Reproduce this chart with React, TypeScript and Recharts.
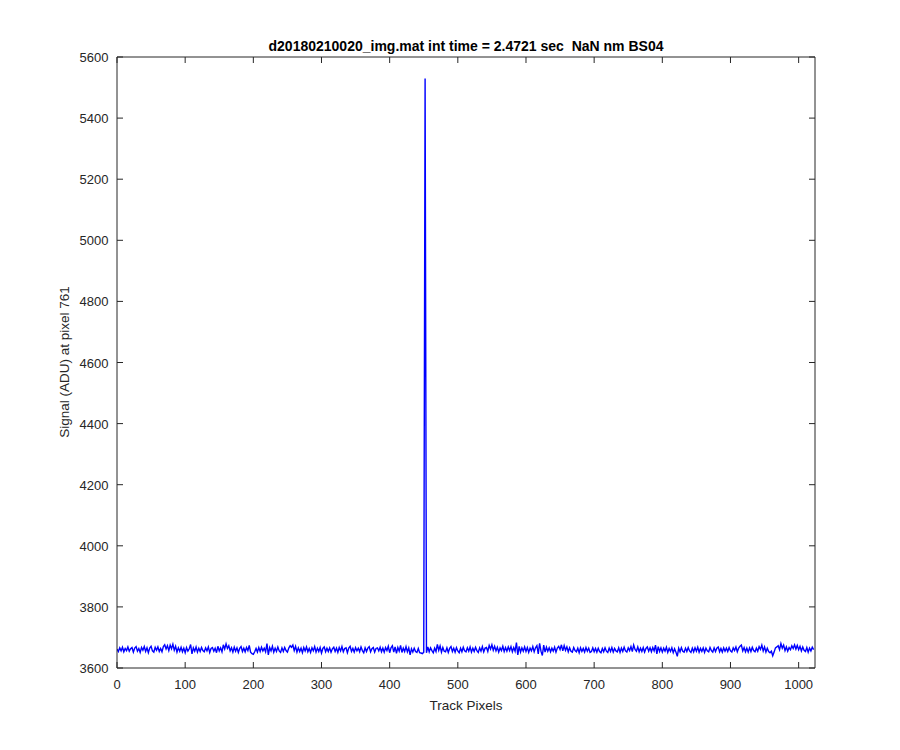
import React from "react";
import { LineChart, Line, XAxis, YAxis } from "recharts";

const chartTitle = "d20180210020_img.mat int time = 2.4721 sec  NaN nm BS04";
const xLabel = "Track Pixels";
const yLabel = "Signal (ADU) at pixel 761";

const xTicks = [0, 100, 200, 300, 400, 500, 600, 700, 800, 900, 1000];
const yTicks = [3600, 3800, 4000, 4200, 4400, 4600, 4800, 5000, 5200, 5400, 5600];
const xDomain = [0, 1024];
const yDomain = [3600, 5600];

// track pixel spacing between listed samples
const pixelStep = 2;

// signal values, track pixels 0, 2, 4, ... 1022
const signal = [
  3662,3654,3666,3656,3668,3653,3664,3657,3669,3655,3663,3667,3652,3665,3670,3655,3664,3651,3667,3658,3670,3654,3666,3650,3665,3671,3656,3652,3668,3658,3669,3654,
  3664,3653,3670,3676,3662,3673,3657,3675,3663,3678,3658,3671,3652,3666,3655,3668,3653,3665,3650,3667,3655,3663,3677,3646,3666,3655,3669,3652,3665,3654,3667,3657,
  3653,3666,3656,3669,3651,3664,3667,3655,3665,3650,3671,3656,3666,3653,3676,3662,3679,3664,3673,3656,3666,3652,3668,3655,3666,3651,3664,3670,3654,3665,3653,3667,
  3657,3674,3652,3647,3645,3653,3664,3652,3667,3654,3668,3656,3665,3653,3680,3643,3667,3656,3671,3652,3665,3654,3669,3656,3651,3666,3654,3667,3657,3652,3665,3673,
  3668,3675,3657,3671,3652,3666,3654,3665,3650,3667,3656,3669,3653,3664,3651,3666,3656,3670,3652,3665,3654,3667,3649,3664,3669,3653,3665,3654,3666,3652,3663,3668,
  3654,3665,3651,3667,3656,3670,3653,3664,3666,3650,3665,3671,3654,3664,3652,3667,3656,3665,3653,3669,3657,3650,3666,3654,3665,3670,3653,3663,3667,3652,3664,3666,
  3656,3668,3653,3665,3652,3667,3657,3671,3650,3666,3673,3652,3669,3648,3667,3655,3674,3651,3665,3654,3670,3653,3666,3643,3663,3652,3665,3654,3651,3664,3650,3649,
  3647,3652,5530,3650,3669,3653,3666,3657,3650,3665,3654,3677,3658,3672,3652,3667,3655,3653,3666,3651,3664,3670,3654,3665,3652,3667,3656,3650,3665,3653,3668,3656,
  3653,3666,3655,3669,3652,3665,3654,3668,3657,3651,3666,3655,3670,3653,3665,3667,3654,3674,3662,3676,3658,3671,3656,3668,3652,3666,3657,3671,3654,3667,3655,3669,
  3657,3670,3653,3667,3655,3683,3643,3671,3652,3666,3655,3669,3654,3667,3651,3665,3656,3670,3653,3666,3673,3646,3681,3655,3641,3675,3652,3668,3655,3666,3653,3665,
  3655,3668,3652,3665,3671,3660,3676,3656,3673,3658,3669,3653,3666,3655,3652,3667,3657,3653,3665,3650,3666,3654,3664,3652,3667,3655,3665,3651,3654,3666,3653,3664,
  3652,3665,3654,3650,3664,3653,3666,3655,3651,3665,3654,3667,3652,3664,3656,3653,3666,3651,3665,3654,3668,3656,3652,3666,3657,3670,3654,3675,3661,3655,3669,3653,
  3665,3654,3667,3652,3664,3669,3655,3666,3653,3667,3656,3675,3646,3670,3654,3666,3652,3665,3655,3668,3651,3664,3654,3666,3650,3663,3652,3638,3665,3653,3667,3655,
  3652,3665,3654,3667,3656,3651,3665,3653,3666,3655,3668,3652,3664,3654,3666,3651,3665,3656,3653,3667,3657,3652,3666,3654,3665,3669,3653,3664,3652,3666,3655,3665,
  3654,3667,3656,3652,3666,3657,3669,3653,3665,3671,3675,3656,3667,3653,3665,3652,3666,3654,3668,3657,3653,3665,3655,3670,3661,3675,3656,3669,3652,3665,3654,3650,
  3655,3640,3652,3666,3669,3673,3660,3680,3665,3675,3657,3669,3655,3667,3660,3673,3664,3676,3662,3674,3660,3671,3656,3669,3658,3654,3667,3652,3665,3656,3668,3660,
];

const data = signal.map((v, i) => ({ x: i * pixelStep, y: v }));

const AXIS = "#262626";
const FONT = "'Liberation Sans', Arial, Helvetica, sans-serif";
const TICK_LEN = 6;

const BottomTick = (props: any) => {
  const { x, y, payload } = props;
  return (
    <text x={x} y={Number(y) + 20.5} textAnchor="middle" fill={AXIS} fontSize={13} fontFamily={FONT}>
      {payload.value}
    </text>
  );
};

const LeftTick = (props: any) => {
  const { x, y, payload } = props;
  return (
    <text x={Number(x) - 8.5} y={Number(y) + 5} textAnchor="end" fill={AXIS} fontSize={13} fontFamily={FONT}>
      {payload.value}
    </text>
  );
};

const NoLabel = () => <g />;

const lineStyle = { stroke: AXIS, strokeWidth: 1 };

export default function App() {
  return (
    <div style={{ position: "relative", width: 900, height: 750, background: "#fff" }}>
      <LineChart
        width={900}
        height={750}
        data={data}
        margin={{ top: 48, right: 92, bottom: 50, left: 49 }}
      >
        <XAxis
          xAxisId="bottom"
          dataKey="x"
          type="number"
          domain={xDomain}
          ticks={xTicks}
          allowDataOverflow
          orientation="bottom"
          height={40}
          tickSize={-TICK_LEN}
          tickMargin={TICK_LEN}
          tickLine={lineStyle}
          axisLine={lineStyle}
          tick={BottomTick}
          interval={0}
        />
        <XAxis
          xAxisId="top"
          dataKey="x"
          type="number"
          domain={xDomain}
          ticks={xTicks}
          allowDataOverflow
          orientation="top"
          height={1}
          tickSize={-TICK_LEN}
          tickMargin={TICK_LEN}
          tickLine={lineStyle}
          axisLine={lineStyle}
          tick={NoLabel}
          interval={0}
        />
        <YAxis
          yAxisId="left"
          type="number"
          domain={yDomain}
          ticks={yTicks}
          allowDataOverflow
          orientation="left"
          width={60}
          tickSize={-TICK_LEN}
          tickMargin={TICK_LEN}
          tickLine={lineStyle}
          axisLine={lineStyle}
          tick={LeftTick}
          interval={0}
        />
        <YAxis
          yAxisId="right"
          type="number"
          domain={yDomain}
          ticks={yTicks}
          allowDataOverflow
          orientation="right"
          width={1}
          tickSize={-TICK_LEN}
          tickMargin={TICK_LEN}
          tickLine={lineStyle}
          axisLine={lineStyle}
          tick={NoLabel}
          interval={0}
        />
        <Line
          xAxisId="bottom"
          yAxisId="left"
          type="linear"
          dataKey="y"
          stroke="#0000ff"
          strokeWidth={1.4}
          dot={false}
          isAnimationActive={false}
        />
        <Line
          xAxisId="top"
          yAxisId="right"
          type="linear"
          dataKey="y"
          stroke="none"
          strokeWidth={0}
          dot={false}
          isAnimationActive={false}
        />
      </LineChart>
      <svg
        width={900}
        height={750}
        style={{ position: "absolute", left: 0, top: 0, pointerEvents: "none" }}
      >
        <text
          x={458}
          y={43}
          textAnchor="middle"
          fontSize={14}
          fontWeight="bold"
          fontFamily={FONT}
          fill="#000"
          style={{ whiteSpace: "pre" }}
          xmlSpace="preserve"
        >
          {chartTitle}
        </text>
        <text
          x={458}
          y={701.5}
          textAnchor="middle"
          fontSize={13.5}
          fontFamily={FONT}
          fill={AXIS}
        >
          {xLabel}
        </text>
        <text
          x={61}
          y={354}
          textAnchor="middle"
          fontSize={13.5}
          fontFamily={FONT}
          fill={AXIS}
          transform="rotate(-90, 61, 354)"
        >
          {yLabel}
        </text>
      </svg>
    </div>
  );
}
